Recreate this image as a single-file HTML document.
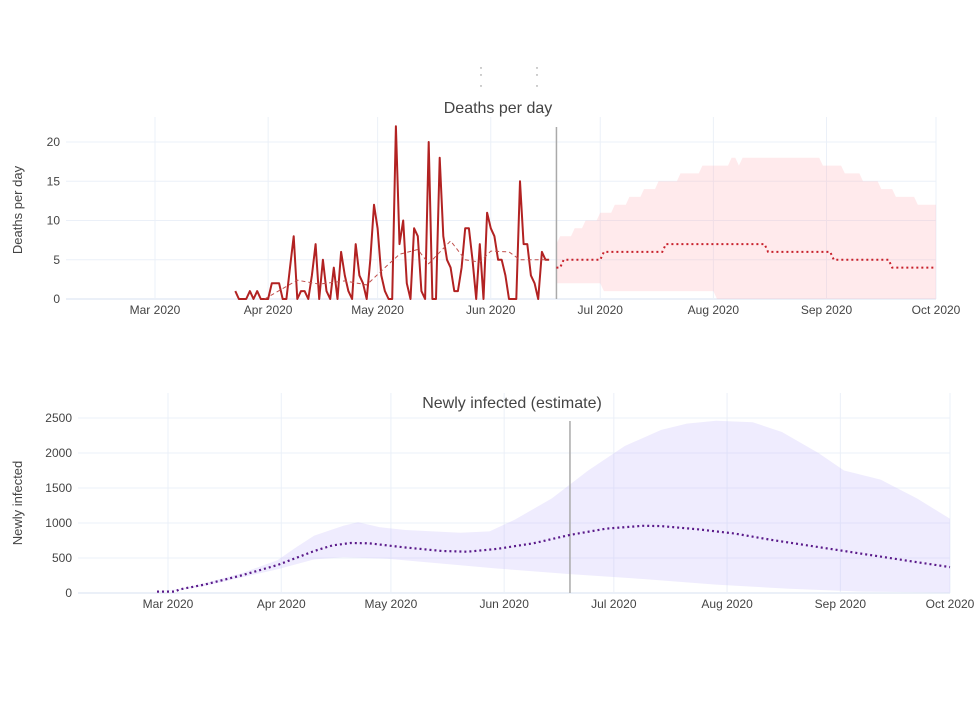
<!DOCTYPE html>
<html><head><meta charset="utf-8"><style>
body{margin:0;background:#fff}
svg{font-family:"Liberation Sans",Arial,sans-serif}
</style></head><body>
<svg id="chart" width="980" height="699" viewBox="0 0 980 699" xmlns="http://www.w3.org/2000/svg">
<g fill="#888">
<circle cx="481" cy="68" r="0.7"/><circle cx="481" cy="75" r="0.7"/><circle cx="481" cy="86" r="0.7"/>
<circle cx="537" cy="68" r="0.7"/><circle cx="537" cy="75" r="0.7"/><circle cx="537" cy="86" r="0.7"/>
</g>
<g id="topPanel"></g>
<g id="botPanel"></g>
</svg>
<script>
// Day numbers: 0 = 2020-01-01
const deathsStart = 82;
const deathsValues = [1,0,0,0,1,0,1,0,0,
0,2,2,2,0,0,4,8,0,1,1,0,3,7,0,5,1,0,4,0,6,3,1,0,7,3,2,0,5,12,
9,3,1,0,0,22,7,10,2,0,9,8,1,0,20,0,0,18,8,5,4,1,1,4,9,9,5,0,7,0,11,
9,8,5,5,3,0,0,0,15,7,7,3,2,0,6,5,5];
const avgDays = [90,99,105,112,118,123,127,132,135,141,145,149,152,157,160,165,168];
const avgValues = [0,2.4,1.9,2.3,1.8,4,5.7,6.3,4.5,7.4,5,4.7,6.1,6,5,5,5];
const upperStepDays = [170,171,175,178,182,186,190,194,198,204,210,218,220,221,243,249,254,259,263,269,274];
const upperStepValues = [7,8,9,10,11,12,13,14,15,16,17,18,17,18,17,16,15,14,13,12,12];
const lowerStepDays = [170,183,214,274];
const lowerStepValues = [2,1,0,0];
const medStepDays = [170,172,183,200,228,246,262,274];
const medStepValues = [4,5,6,7,6,5,4,4];
const deathTicks = [0,5,10,15,20];
const infDays = [57,60,62,63,70,80,90,100,105,110,115,125,135,142,150,160,170,180,190,195,205,215,225,235,245,255,265,274];
const infMedian = [20,20,20,50,120,250,400,600,680,715,710,650,600,590,630,710,830,920,960,955,910,850,760,680,600,520,440,370];
const infUpDays = [57,63,70,80,90,95,100,108,112,118,125,140,148,155,165,175,185,195,202,210,220,228,238,245,255,265,274];
const infUpper = [25,55,140,280,470,650,820,960,1010,940,900,860,880,1050,1350,1750,2100,2330,2420,2460,2440,2300,2000,1750,1620,1350,1060];
const infLoDays = [57,63,70,80,90,100,108,120,135,150,170,190,210,230,250,274];
const infLower = [15,45,100,220,340,480,510,490,420,350,270,200,120,60,20,5];
const infTicks = [0,500,1000,1500,2000,2500];
const monthDays = [60,91,121,152,182,213,244,274];
const monthLabels = ["Mar 2020","Apr 2020","May 2020","Jun 2020","Jul 2020","Aug 2020","Sep 2020","Oct 2020"];
const todayDay = 170;

const NS="http://www.w3.org/2000/svg";
function mk(parent,tag,attrs,text){const e=document.createElementNS(NS,tag);for(const k in attrs)e.setAttribute(k,attrs[k]);if(text!==undefined)e.textContent=text;parent.appendChild(e);return e;}
function stepsDaily(days,vals){const out=[];for(let i=0;i<days.length-1;i++){for(let d=days[i];d<days[i+1];d++)out.push([d,vals[i]]);}out.push([days[days.length-1],vals[vals.length-1]]);return out;}
function pts(arr,X,Y){return arr.map(p=>X(p[0]).toFixed(1)+","+Y(p[1]).toFixed(1)).join(" ");}

function panel(g,cfg){
  const X=d=>cfg.x0+(d-60)*(cfg.x1-cfg.x0)/214;
  const Y=v=>cfg.y0-v*(cfg.y0-cfg.yTop)/cfg.yMaxTick;
  cfg.ticks.forEach(t=>{
    const l=mk(g,'line',{x1:cfg.left,x2:cfg.right,y1:Y(t),y2:Y(t),stroke:'#ebf0f8','stroke-width':t===0?2:1});
    
    
    const tx=mk(g,'text',{x:cfg.tickEnd,y:Y(t)+4,'text-anchor':'end','font-size':12,fill:'#444'},String(t));
    
    
  });
  monthDays.forEach((d,i)=>{
    const l=mk(g,'line',{x1:X(d),x2:X(d),y1:cfg.yTop-25,y2:cfg.y0,stroke:'#ebf0f8'});
    
    
    const tx=mk(g,'text',{x:X(d),y:cfg.y0+15,'text-anchor':'middle','font-size':12,fill:'#444'},monthLabels[i]);
    
    
  });
  const tt=mk(g,'text',{x:cfg.titleX,y:cfg.titleY,'text-anchor':'middle','font-size':16,fill:'#444'},cfg.title);
  
  
  const yt=mk(g,'text',{x:0,y:0,'text-anchor':'middle','font-size':13,fill:'#444',transform:`translate(${cfg.ytX},${cfg.ytY}) rotate(-90)`},cfg.yTitle);
  
  
  return {X,Y};
}

// TOP
const topG=document.getElementById('topPanel');
const T=panel(topG,{x0:155,x1:936,y0:299,yTop:142,yMaxTick:20,left:66,right:936,tickEnd:60,ticks:deathTicks,title:'Deaths per day',titleX:498,titleY:113,yTitle:'Deaths per day',ytX:22,ytY:210});
const up=stepsDaily(upperStepDays,upperStepValues), lo=stepsDaily(lowerStepDays,lowerStepValues);
const band=mk(topG,'polygon',{points:pts(up,T.X,T.Y)+" "+pts(lo.slice().reverse(),T.X,T.Y),fill:'rgba(255,170,180,0.25)',stroke:'none'});


const today1=mk(topG,'line',{x1:T.X(todayDay),x2:T.X(todayDay),y1:127,y2:299,stroke:'#aaa','stroke-width':1.5});


const dpts=deathsValues.map((v,i)=>[deathsStart+i,v]);
const dl=mk(topG,'polyline',{points:pts(dpts,T.X,T.Y),fill:'none',stroke:'#b22222','stroke-width':2,'stroke-linejoin':'round'});


const al=mk(topG,'polyline',{points:pts(avgDays.map((d,i)=>[d,avgValues[i]]),T.X,T.Y),fill:'none',stroke:'#c0504d','stroke-width':1,'stroke-dasharray':'4,3'});


const ml=mk(topG,'polyline',{points:pts(stepsDaily(medStepDays,medStepValues),T.X,T.Y),fill:'none',stroke:'#c8202a','stroke-width':2,'stroke-dasharray':'2,3'});



// BOTTOM
const botG=document.getElementById('botPanel');
const B=panel(botG,{x0:168,x1:950,y0:593,yTop:418,yMaxTick:2500,left:78,right:950,tickEnd:72,ticks:infTicks,title:'Newly infected (estimate)',titleX:512,titleY:408,yTitle:'Newly infected',ytX:22,ytY:503});
const ib=mk(botG,'polygon',{points:pts(infUpDays.map((d,i)=>[d,infUpper[i]]),B.X,B.Y)+" "+pts(infLoDays.map((d,i)=>[d,infLower[i]]).reverse(),B.X,B.Y),fill:'rgba(190,180,250,0.25)',stroke:'none'});


const today2=mk(botG,'line',{x1:B.X(todayDay),x2:B.X(todayDay),y1:421,y2:593,stroke:'#aaa','stroke-width':1.5});


const im=mk(botG,'polyline',{points:pts(infDays.map((d,i)=>[d,infMedian[i]]),B.X,B.Y),fill:'none',stroke:'#5a1a8a','stroke-width':2.2,'stroke-dasharray':'2,3'});


</script>
</body></html>
